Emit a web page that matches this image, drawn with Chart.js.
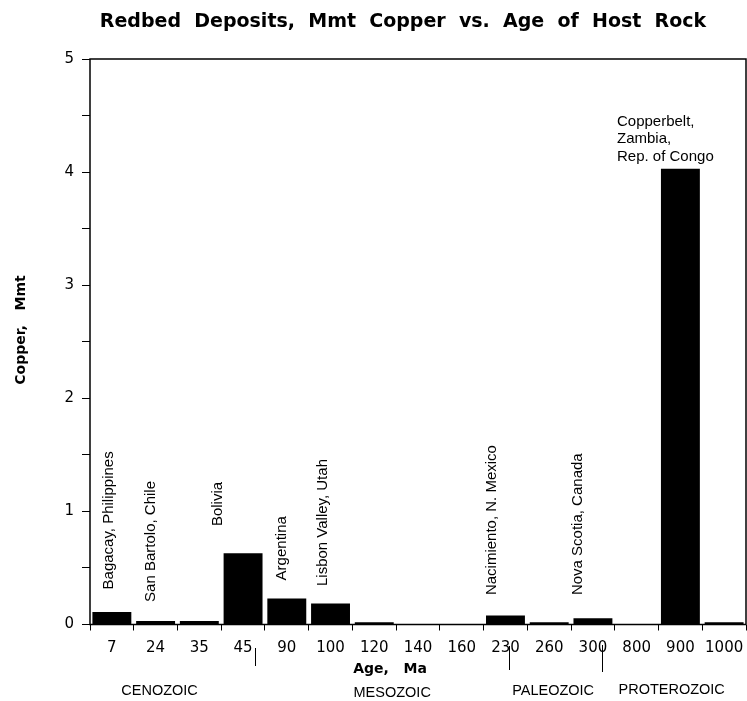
<!DOCTYPE html>
<html>
<head>
<meta charset="utf-8">
<script src="https://cdn.jsdelivr.net/npm/chart.js@4/dist/chart.umd.min.js"></script>
<style>
	body { margin: 0; background: #fff; }
</style>
</head>
<body>
<canvas id="cuChart" width="747" height="701"></canvas>
<script>
// ages of host rock (Ma) and contained copper (Mmt)
const ages = ["7", "24", "35", "45", "90", "100", "120", "140", "160", "230", "260", "300", "800", "900", "1000"];
const copper = [0.11, 0.03, 0.03, 0.63, 0.23, 0.185, 0.02, 0, 0, 0.08, 0.02, 0.055, 0, 4.03, 0.02];
const deposits = ["Bagacay, Philippines", "San Bartolo, Chile", "Bolivia", "Argentina", "Lisbon Valley, Utah", "Nacimiento, N. Mexico", "Nova Scotia, Canada"];
const copperbelt = ["Copperbelt,", "Zambia,", "Rep. of Congo"];
const eras = ["CENOZOIC", "MESOZOIC", "PALEOZOIC", "PROTEROZOIC"];

// placement of the notes: [category position, Mmt where the text starts]
const depositPos = [[-0.06, 0.31], [0.89, 0.2], [2.43, 0.87], [3.89, 0.39], [4.82, 0.34], [8.7, 0.26], [10.66, 0.26]];
const copperbeltPos = [11.55, 4.41];
// era labels: [category position, px below axis]; dividers: [category position, from, to]
const eraPos = [[1.09, 70.5], [6.41, 72.5], [10.09, 70], [12.8, 69.5]];
const eraLines = [[3.28, 23.5, 41.5], [9.08, 21.5, 45.5], [11.2, 20.5, 47.5]];

const extras = {
	id: "extras",
	afterDraw(chart) {
		const { ctx, chartArea: a, scales: { x, y } } = chart;
		ctx.save();
		ctx.fillStyle = "#000";
		ctx.strokeStyle = "#000";

		// frame
		ctx.lineWidth = 1.5;
		ctx.strokeRect(a.left, a.top, a.right - a.left, a.bottom - a.top);

		// title
		ctx.font = "bold 19px 'DejaVu Sans'";
		ctx.textAlign = "center";
		ctx.textBaseline = "alphabetic";
		ctx.fillText("Redbed  Deposits,  Mmt  Copper  vs.  Age  of  Host  Rock", 403, 27);

		// axis titles
		ctx.font = "bold 14px 'DejaVu Sans'";
		ctx.fillText("Age,   Ma", 390, 673);
		ctx.save();
		ctx.translate(25, 330);
		ctx.rotate(-Math.PI / 2);
		ctx.fillText("Copper,   Mmt", 0, 0);
		ctx.restore();

		// deposit names
		ctx.font = "15px 'Liberation Sans', Arial";
		ctx.textAlign = "left";
		ctx.textBaseline = "middle";
		deposits.forEach((name, i) => {
			const [pos, val] = depositPos[i];
			ctx.save();
			ctx.translate(x.getPixelForValue(pos), y.getPixelForValue(val));
			ctx.rotate(-Math.PI / 2);
			ctx.fillText(name, 0, 0);
			ctx.restore();
		});
		ctx.textBaseline = "alphabetic";
		copperbelt.forEach((line, i) => {
			ctx.fillText(line, x.getPixelForValue(copperbeltPos[0]), y.getPixelForValue(copperbeltPos[1]) + i * 17.5);
		});

		// eras
		ctx.font = "14.5px 'Liberation Sans', Arial";
		ctx.textAlign = "center";
		eras.forEach((era, i) => {
			ctx.fillText(era, x.getPixelForValue(eraPos[i][0]), a.bottom + eraPos[i][1]);
		});
		ctx.lineWidth = 1;
		eraLines.forEach(([pos, y0, y1]) => {
			const px = Math.round(x.getPixelForValue(pos)) + 0.5;
			ctx.beginPath();
			ctx.moveTo(px, a.bottom + y0);
			ctx.lineTo(px, a.bottom + y1);
			ctx.stroke();
		});
		ctx.restore();
	},
};

const ctx1 = document.getElementById("cuChart");
const cuChart = new Chart(ctx1, {
	type: "bar",
	data: {
		labels: ages,
		datasets: [
			{
				label: "Copper, Mmt",
				data: copper,
				backgroundColor: "#000",
				borderWidth: 0,
				barPercentage: 0.89,
				categoryPercentage: 1,
			},
		],
	},
	options: {
		responsive: false,
		animation: false,
		layout: {
			padding: { top: 59, right: 1, left: 0, bottom: 0 },
		},
		plugins: {
			legend: { display: false },
			tooltip: { enabled: false },
		},
		scales: {
			x: {
				afterFit(scale) {
					scale.height = 76.5;
					scale.paddingLeft = 0;
					scale.paddingRight = 0;
				},
				border: { display: false },
				grid: {
					drawOnChartArea: false,
					offset: true,
					tickLength: 6,
					color: "#000",
				},
				ticks: {
					autoSkip: false,
					maxRotation: 0,
					padding: 9,
					color: "#000",
					font: { family: "'DejaVu Sans'", size: 15 },
				},
			},
			y: {
				min: 0,
				max: 5,
				afterFit(scale) {
					scale.width = 90;
					scale.paddingTop = 0;
					scale.paddingBottom = 0;
				},
				border: { display: false },
				grid: {
					drawOnChartArea: false,
					tickLength: 8,
					color: "#000",
				},
				ticks: {
					stepSize: 0.5,
					padding: 8,
					color: "#000",
					font: { family: "'DejaVu Sans'", size: 15 },
					callback: (v) => (Number.isInteger(v) ? v : ""),
				},
			},
		},
	},
	plugins: [extras],
});
</script>
</body>
</html>
